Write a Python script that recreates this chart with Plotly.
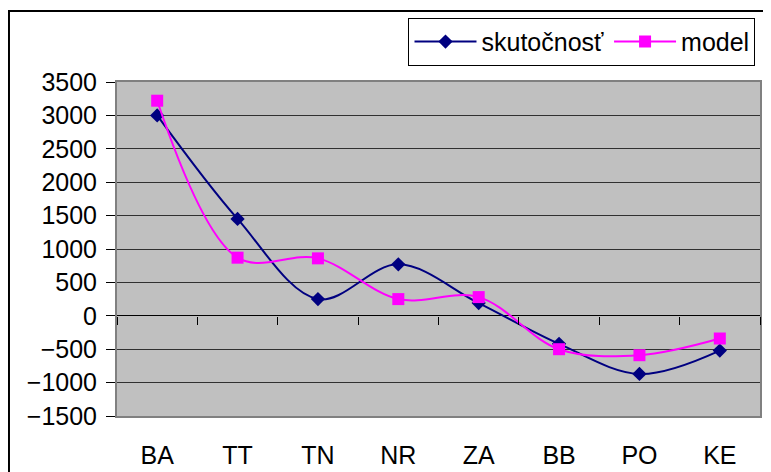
import plotly.graph_objects as go

categories = ["BA", "TT", "TN", "NR", "ZA", "BB", "PO", "KE"]
skutocnost = [3000, 1450, 250, 770, 190, -420, -870, -520]
model = [3220, 870, 860, 250, 280, -500, -590, -340]
y_ticks = [-1500, -1000, -500, 0, 500, 1000, 1500, 2000, 2500, 3000, 3500]

FONT = "Liberation Sans, Arial, sans-serif"

fig = go.Figure()
fig.add_trace(go.Scatter(
    x=categories, y=skutocnost, name="skutočnosť",
    mode="lines+markers",
    line=dict(color="#000080", width=2, shape="spline", smoothing=1),
    marker=dict(symbol="diamond", size=11, color="#000080"),
))
fig.add_trace(go.Scatter(
    x=categories, y=model, name="model",
    mode="lines+markers",
    line=dict(color="#FF00FF", width=2, shape="spline", smoothing=1),
    marker=dict(symbol="square", size=12, color="#FF00FF"),
))
# helper trace for category boundary ticks on the zero line
fig.add_trace(go.Scatter(
    x=[-0.5, 7.5], y=[0, 0], xaxis="x2", mode="markers",
    marker=dict(opacity=0), showlegend=False, hoverinfo="skip",
))

n = len(categories)
fig.update_layout(
    width=763, height=464,
    margin=dict(l=109, r=11, t=74, b=56, autoexpand=False),
    paper_bgcolor="white",
    plot_bgcolor="#C0C0C0",
    font=dict(family=FONT, size=25, color="black"),
    showlegend=True,
    legend=dict(
        orientation="h", x=0.993, y=1.192, xanchor="right", yanchor="top",
        bgcolor="white", bordercolor="black", borderwidth=1,
        font=dict(family=FONT, size=25, color="black"),
        itemwidth=62, traceorder="normal",
    ),
    xaxis=dict(
        type="category", categoryorder="array", categoryarray=categories,
        range=[-0.5, n - 0.5],
        showgrid=False, zeroline=False,
        showline=True, linecolor="#808080", linewidth=2, mirror=True,
        ticks="outside", ticklen=16, tickcolor="rgba(0,0,0,0)",
        tickfont=dict(family=FONT, size=25, color="black"),
    ),
    xaxis2=dict(
        overlaying="x", anchor="free", position=0.3,
        range=[-0.5, n - 0.5],
        tickmode="array", tickvals=[i - 0.5 for i in range(n + 1)],
        ticks="outside", ticklen=8, tickcolor="black", tickwidth=1,
        showticklabels=False, showgrid=False, zeroline=False, showline=False,
    ),
    yaxis=dict(
        range=[y_ticks[0], y_ticks[-1]],
        tickmode="array", tickvals=y_ticks,
        showgrid=True, gridcolor="#303030", gridwidth=1,
        zeroline=True, zerolinecolor="black", zerolinewidth=1,
        showline=True, linecolor="#808080", linewidth=2, mirror=True,
        ticks="outside", ticklen=9, tickcolor="black",
        ticklabelstandoff=4,
        tickfont=dict(family=FONT, size=25, color="black"),
    ),
    shapes=[dict(
        type="rect", xref="paper", yref="paper",
        x0=-0.168, y0=-1.0, x1=2.0, y1=1.2126,
        line=dict(color="black", width=2), fillcolor="rgba(0,0,0,0)",
        layer="below",
    )],
)

fig.write_html("out.html")
